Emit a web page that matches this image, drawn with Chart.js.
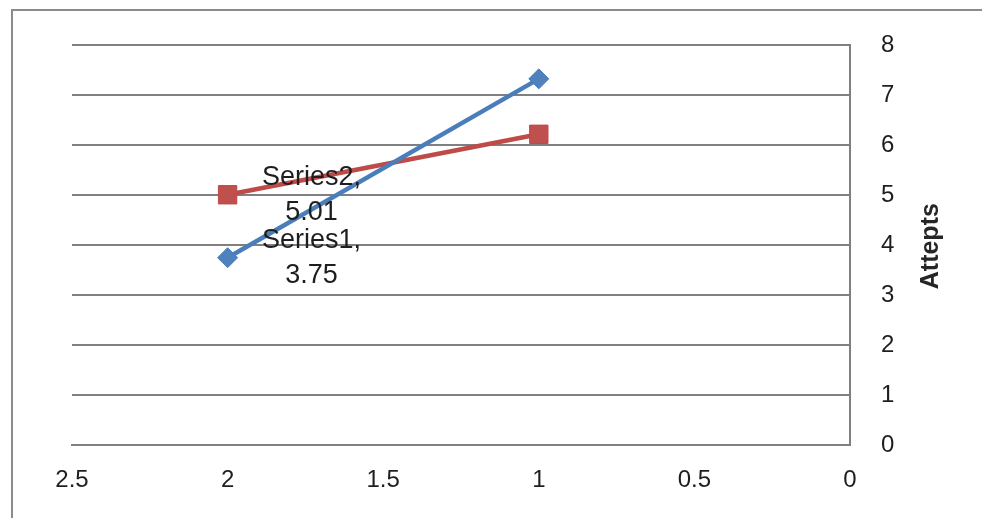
<!DOCTYPE html>
<html>
<head>
<meta charset="utf-8">
<script src="https://cdn.jsdelivr.net/npm/chart.js@4/dist/chart.umd.min.js"></script>
<style>
  html, body { margin: 0; padding: 0; background: #ffffff; }
  #wrap { width: 982px; height: 518px; position: relative; }
</style>
</head>
<body>
<div id="wrap"><canvas id="c" width="982" height="518"></canvas></div>
<script>
// ---- data ----
const xValues = [2, 1];
const series1 = [3.75, 7.33];
const series2 = [5.01, 6.22];
const seriesNames = ['Series1', 'Series2'];
const yAxisTitle = 'Attepts';
const labelIndex = 0; // point that carries a data label

const toPoints = (ys) => xValues.map((x, i) => ({ x: x, y: ys[i] }));
const FONT = '"Liberation Sans", Arial, sans-serif';

const frame = {
  id: 'frame',
  beforeDraw(chart) {
    const ctx = chart.ctx;
    ctx.save();
    ctx.strokeStyle = '#8c8c8c';
    ctx.lineWidth = 2;
    ctx.strokeRect(12, 10, 1000, 600);
    ctx.restore();
  }
};

const axisTitle = {
  id: 'axisTitle',
  afterDraw(chart) {
    const ctx = chart.ctx;
    const a = chart.chartArea;
    ctx.save();
    ctx.translate(a.right + 81, (a.top + a.bottom) / 2 + 1);
    ctx.rotate(-Math.PI / 2);
    ctx.font = 'bold 25px ' + FONT;
    ctx.fillStyle = '#262626';
    ctx.textAlign = 'center';
    ctx.textBaseline = 'middle';
    ctx.fillText(yAxisTitle, 0, 0);
    ctx.restore();
  }
};

const dataLabels = {
  id: 'dataLabels',
  afterDatasetsDraw(chart) {
    const ctx = chart.ctx;
    ctx.save();
    ctx.font = '27px ' + FONT;
    ctx.fillStyle = '#1e1e1e';
    ctx.textAlign = 'center';
    ctx.textBaseline = 'middle';
    chart.data.datasets.forEach((ds, di) => {
      const el = chart.getDatasetMeta(di).data[labelIndex];
      const v = ds.data[labelIndex].y;
      const cx = el.x + 84;
      ctx.fillText(ds.label + ',', cx, el.y - 17);
      ctx.fillText(String(v), cx, el.y + 18);
    });
    ctx.restore();
  }
};

new Chart(document.getElementById('c'), {
  type: 'scatter',
  data: {
    datasets: [
      {
        label: seriesNames[0],
        data: toPoints(series1),
        showLine: true,
        borderColor: '#4a7ebb',
        borderWidth: 4.5,
        pointStyle: 'rectRot',
        pointRadius: 10,
        pointBackgroundColor: '#4f81bd',
        pointBorderColor: '#4a7ebb',
        pointBorderWidth: 1
      },
      {
        label: seriesNames[1],
        data: toPoints(series2),
        showLine: true,
        borderColor: '#be4b48',
        borderWidth: 4.5,
        pointStyle: 'rect',
        pointRadius: 13,
        pointBackgroundColor: '#c0504d',
        pointBorderColor: '#be4b48',
        pointBorderWidth: 1
      }
    ]
  },
  options: {
    responsive: false,
    animation: false,
    events: [],
    layout: { padding: { left: 72, top: 42, right: 0, bottom: 0 } },
    plugins: { legend: { display: false }, tooltip: { enabled: false } },
    scales: {
      x: {
        type: 'linear',
        reverse: true,
        min: 0,
        max: 2.5,
        ticks: { stepSize: 0.5, color: '#1e1e1e', padding: 21,
                 callback: (v) => String(v),
                 font: { family: FONT, size: 24 } },
        grid: { display: false, drawTicks: false },
        border: { display: true, color: '#808080', width: 2 },
        afterFit(s) { s.height = 73; }
      },
      y: {
        position: 'right',
        min: 0,
        max: 8,
        ticks: { stepSize: 1, color: '#1e1e1e', padding: 31,
                 font: { family: FONT, size: 24 } },
        grid: { color: '#808080', lineWidth: 2, drawTicks: false },
        border: { display: true, color: '#808080', width: 2 },
        title: { display: false },
        afterFit(s) { s.width = 132; }
      }
    }
  },
  plugins: [frame, axisTitle, dataLabels]
});
</script>
</body>
</html>
